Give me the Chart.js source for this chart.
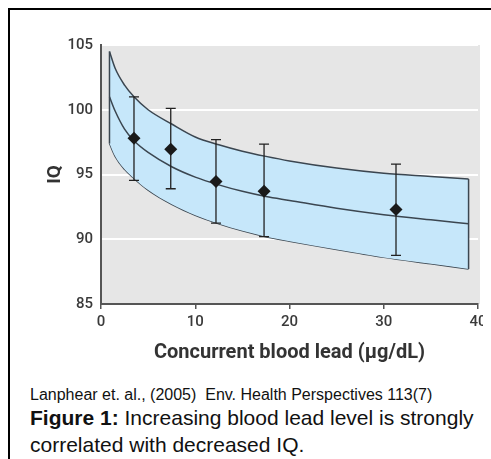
<!DOCTYPE html>
<html>
<head>
<meta charset="utf-8">
<script src="https://cdn.jsdelivr.net/npm/chart.js@4/dist/chart.umd.min.js"></script>
<style>
  html, body { margin: 0; padding: 0; width: 491px; height: 459px; overflow: hidden; background: #fff; }
  #frame { position: absolute; left: 8px; top: 8px; width: 600px; height: 600px;
           border-left: 2px solid #000; border-top: 2px solid #000; }
  #wrap { position: absolute; left: 0; top: 0; width: 483px; height: 380px; overflow: hidden; }
  .cap { position: absolute; left: 30px; font-family: "Liberation Sans", Arial, sans-serif;
         color: #111; white-space: nowrap; }
  #src { top: 387px; font-size: 16px; line-height: 16px; }
  #fig1 { top: 406px; font-size: 21px; line-height: 24px; }
  #fig2 { top: 433px; font-size: 21px; line-height: 24px; }
</style>
</head>
<body>
<div id="frame"></div>
<div id="wrap"><canvas id="chart" width="520" height="380"></canvas></div>
<div class="cap" id="src">Lanphear et. al., (2005)&nbsp; Env. Health Perspectives 113(7)</div>
<div class="cap" id="fig1"><b>Figure 1:</b> Increasing blood lead level is strongly</div>
<div class="cap" id="fig2">correlated with decreased IQ.</div>
<script>
// values
const bandX   = [0.9, 1.5, 2.5, 3.5, 5, 7.5, 10, 12.5, 15, 17.5, 20, 25, 30, 35, 39];
const fitIQ   = [101.0, 99.9, 98.5, 97.6, 96.7, 95.6, 94.8, 94.2, 93.7, 93.3, 93.0, 92.4, 91.9, 91.5, 91.2];
const upperIQ = [104.5, 103.2, 101.9, 101.0, 100.0, 98.9, 97.9, 97.3, 96.8, 96.4, 96.05, 95.5, 95.1, 94.85, 94.65];
const lowerIQ = [97.4, 96.4, 95.4, 94.7, 93.8, 92.7, 91.85, 91.2, 90.65, 90.2, 89.85, 89.2, 88.6, 88.1, 87.7];

const leadX   = [3.5, 7.4, 12.2, 17.3, 31.3];
const meanIQ  = [97.8, 96.95, 94.45, 93.7, 92.3];
const errHigh = [101.0, 100.1, 97.7, 97.35, 95.8];
const errLow  = [94.55, 93.9, 91.25, 90.2, 88.75];

const xTicks = [0, 10, 20, 30, 40];
const yTicks = [85, 90, 95, 100, 105];

const NARROW = "Roboto, 'Liberation Sans', sans-serif";
const LINE = "#3b4650";

const pts = (xs, ys) => xs.map((x, i) => ({x: x, y: ys[i]}));
const last = bandX.length - 1;

/* plot background in grey */
const plotBg = {
    id: "plotBg",
    beforeDraw(chart) {
        const a = chart.chartArea, ctx = chart.ctx;
        ctx.save();
        ctx.fillStyle = "#e6e6e6";
        ctx.fillRect(a.left, a.top, a.right - a.left + 2, a.bottom - a.top);
        ctx.restore();
    }
};

/* error bars, drawn just under the diamonds */
const errorBars = {
    id: "errorBars",
    beforeDatasetDraw(chart, args) {
        if (args.index !== 0) return;
        const xs = chart.scales.x, ys = chart.scales.y, ctx = chart.ctx;
        ctx.save();
        ctx.strokeStyle = "#222";
        ctx.lineWidth = 1.3;
        leadX.forEach((x, i) => {
            const px = xs.getPixelForValue(x);
            const top = ys.getPixelForValue(errHigh[i]);
            const bot = ys.getPixelForValue(errLow[i]);
            ctx.beginPath();
            ctx.moveTo(px, top); ctx.lineTo(px, bot);
            ctx.moveTo(px - 5, top); ctx.lineTo(px + 5, top);
            ctx.moveTo(px - 5, bot); ctx.lineTo(px + 5, bot);
            ctx.stroke();
        });
        ctx.restore();
    }
};

new Chart(document.getElementById("chart"), {
    type: "scatter",
    data: {
        datasets: [
            {
                data: pts(leadX, meanIQ),
                pointStyle: "rectRot", pointRadius: 6.5,
                backgroundColor: "#1a1a1a", borderColor: "#1a1a1a", borderWidth: 0,
                showLine: false
            },
            {
                data: pts(bandX, fitIQ),
                showLine: true, pointRadius: 0, borderColor: LINE, borderWidth: 1.5,
                cubicInterpolationMode: "monotone"
            },
            {
                /* closing edges of the band */
                data: [
                    {x: bandX[0], y: lowerIQ[0]}, {x: bandX[0], y: upperIQ[0]},
                    {x: bandX[0], y: null},
                    {x: bandX[last], y: upperIQ[last]}, {x: bandX[last], y: lowerIQ[last]}
                ],
                showLine: true, pointRadius: 0, borderColor: LINE, borderWidth: 1.5
            },
            {
                data: pts(bandX, upperIQ),
                showLine: true, pointRadius: 0, borderColor: LINE, borderWidth: 1.5,
                cubicInterpolationMode: "monotone",
                fill: "+1", backgroundColor: "#c6e7fa"
            },
            {
                data: pts(bandX, lowerIQ),
                showLine: true, pointRadius: 0, borderColor: LINE, borderWidth: 1.5,
                cubicInterpolationMode: "monotone"
            }
        ]
    },
    options: {
        responsive: false,
        animation: false,
        devicePixelRatio: 1,
        layout: { padding: { top: 45, right: 42, left: 0, bottom: 0 } },
        plugins: { legend: { display: false }, tooltip: { enabled: false } },
        scales: {
            x: {
                type: "linear", min: 0, max: 40,
                afterBuildTicks: s => { s.ticks = xTicks.map(v => ({value: v})); },
                afterFit: s => { s.height = 76; },
                ticks: { font: { family: NARROW, size: 15, weight: "500" }, color: "#3a3a3a", padding: 4 },
                grid: { drawOnChartArea: false, drawTicks: true, tickLength: 5, color: "#555", lineWidth: 1.5 },
                border: { display: true, color: "#555", width: 2 },
                title: {
                    display: true, text: "Concurrent blood lead (\u00b5g/dL)",
                    font: { family: NARROW, size: 20, weight: "bold" }, color: "#333",
                    padding: { top: 0, bottom: 15 }
                }
            },
            y: {
                type: "linear", min: 85, max: 105,
                afterBuildTicks: s => { s.ticks = yTicks.map(v => ({value: v})); },
                afterFit: s => { s.width = 101; },
                ticks: { font: { family: NARROW, size: 15, weight: "500" }, color: "#3a3a3a", padding: 8 },
                grid: { color: "#ffffff", lineWidth: 2, drawTicks: false },
                border: { display: true, color: "#555", width: 2 },
                title: {
                    display: true, text: "IQ",
                    font: { family: NARROW, size: 19, weight: "bold" }, color: "#333",
                    padding: { top: 44, bottom: 0 }
                }
            }
        }
    },
    plugins: [plotBg, errorBars]
});
</script>
</body>
</html>
